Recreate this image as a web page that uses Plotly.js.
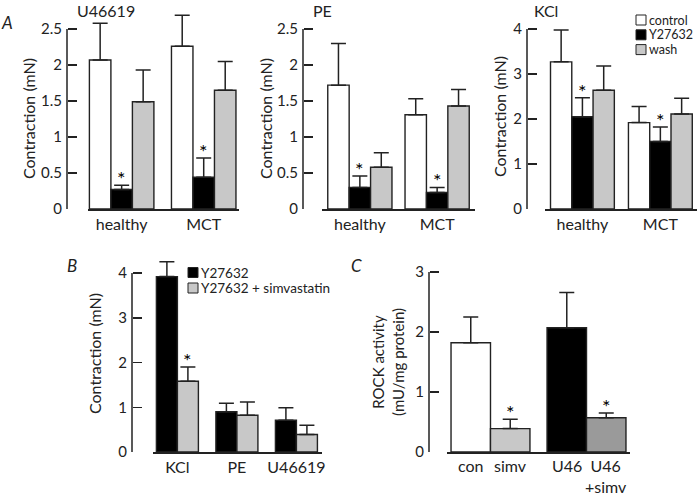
<!DOCTYPE html>
<html>
<head>
<meta charset="utf-8">
<script src="https://cdn.plot.ly/plotly-3.0.1.min.js"></script>
<style>html,body{margin:0;padding:0;background:#fff;}#chart{width:698px;height:495px;}</style>
</head>
<body>
<div id="chart"></div>
<script>
// ---------------- data ----------------
const aGroups = ['healthy', 'MCT'];
const aSeriesNames = ['control', 'Y27632', 'wash'];

const u46619Control = [2.07, 2.26];
const u46619ControlSem = [0.51, 0.43];
const u46619Y27632 = [0.27, 0.44];
const u46619Y27632Sem = [0.06, 0.27];
const u46619Wash = [1.49, 1.65];
const u46619WashSem = [0.44, 0.40];

const peControl = [1.72, 1.31];
const peControlSem = [0.58, 0.22];
const peY27632 = [0.30, 0.23];
const peY27632Sem = [0.16, 0.07];
const peWash = [0.58, 1.43];
const peWashSem = [0.20, 0.23];

const kclControl = [3.27, 1.92];
const kclControlSem = [0.71, 0.36];
const kclY27632 = [2.05, 1.50];
const kclY27632Sem = [0.42, 0.32];
const kclWash = [2.64, 2.11];
const kclWashSem = [0.54, 0.35];

const bAgonists = ['KCl', 'PE', 'U46619'];
const bSeriesNames = ['Y27632', 'Y27632 + simvastatin'];
const bY27632 = [3.92, 0.90, 0.71];
const bY27632Sem = [0.33, 0.19, 0.28];
const bSimva = [1.58, 0.82, 0.39];
const bSimvaSem = [0.32, 0.30, 0.21];
const bSig = [true, false, false];   // on Y27632 + simvastatin

const cLabels = ['con', 'simv', 'U46', 'U46<br>+simv'];
const cRock = [1.82, 0.39, 2.07, 0.57];
const cRockSem = [0.43, 0.155, 0.59, 0.08];
const cSig = [false, true, false, true];

// ---------------- layout helpers ----------------
const W = 698, H = 495;
const fx = v => v / W;
const fy = v => 1 - v / H;
const FONT = 'Lato, "Open Sans", sans-serif';
const INK = '#222';
const WHITE = '#ffffff', BLACK = '#000000', LGRAY = '#c8c8c8', DGRAY = '#9a9a9a';
const EXT = 1.15;   // head-room above the last tick so that error caps are not clipped

const panels = [
  {k: '',  xd: [88, 239],  xr: [-0.41, 1.43],  yd: [209, 29],  ymax: 2.5, dt: 0.5, ypos: 67,  bw: 0.262, labels: true},
  {k: '2', xd: [322, 475], xr: [-0.49, 1.49],  yd: [209, 29],  ymax: 2.5, dt: 0.5, ypos: 303, bw: 0.277, labels: true},
  {k: '3', xd: [545, 697], xr: [-0.48, 1.47],  yd: [209, 29],  ymax: 4,   dt: 1,   ypos: 527, bw: 0.273, labels: true},
  {k: '4', xd: [153, 322], xr: [-0.41, 2.43],  yd: [452, 273], ymax: 4,   dt: 1,   ypos: 132, bw: 0.353, labels: true},
  {k: '5', xd: [447, 630], xr: [-0.453, 1.453],yd: [452, 272], ymax: 3,   dt: 1,   ypos: 429, bw: 0.411, labels: false}
];

const traces = [];
const annotations = [];
const shapes = [];

function addBars(p, cats, vals, sems, colors, idx, n, name) {
  traces.push({
    type: 'bar', name: name, x: cats, y: vals,
    xaxis: 'x' + p.k, yaxis: 'y' + p.k,
    width: p.bw, offset: -n * p.bw / 2 + idx * p.bw,
    marker: {color: colors, line: {color: INK, width: 1.4}},
    error_y: {type: 'data', symmetric: false, array: sems, arrayminus: sems.map(() => 0),
              color: INK, thickness: 1.5, width: 7.5},
    hoverinfo: 'y', showlegend: false
  });
}
function barCenter(p, catIdx, idx, n) { return catIdx - n * p.bw / 2 + (idx + 0.5) * p.bw; }
function addStar(p, catIdx, idx, n, top) {
  annotations.push({x: barCenter(p, catIdx, idx, n), y: top, xref: 'x' + p.k, yref: 'y' + p.k,
    text: '*', showarrow: false, xanchor: 'center', yanchor: 'bottom', yshift: -7,
    font: {family: FONT, size: 20, color: '#000'}});
}

// Panel A
const aData = [
  [[u46619Control, u46619ControlSem], [u46619Y27632, u46619Y27632Sem], [u46619Wash, u46619WashSem]],
  [[peControl, peControlSem], [peY27632, peY27632Sem], [peWash, peWashSem]],
  [[kclControl, kclControlSem], [kclY27632, kclY27632Sem], [kclWash, kclWashSem]]
];
const aColors = [WHITE, BLACK, LGRAY];
aData.forEach((series, pi) => {
  const p = panels[pi];
  series.forEach((s, si) => addBars(p, aGroups, s[0], s[1], aColors[si], si, 3, aSeriesNames[si]));
  // significance on Y27632 in both groups
  aGroups.forEach((g, gi) => addStar(p, gi, 1, 3, series[1][0][gi] + series[1][1][gi]));
});

// Panel B
addBars(panels[3], bAgonists, bY27632, bY27632Sem, BLACK, 0, 2, bSeriesNames[0]);
addBars(panels[3], bAgonists, bSimva, bSimvaSem, LGRAY, 1, 2, bSeriesNames[1]);
bSig.forEach((s, i) => { if (s) addStar(panels[3], i, 1, 2, bSimva[i] + bSimvaSem[i]); });

// Panel C : bars paired two by two
const cGroups = ['control', 'U46619'];
const cColors = [WHITE, LGRAY, BLACK, DGRAY];
[0, 1].forEach(j => {
  const idxs = [j, j + 2];
  addBars(panels[4], cGroups, idxs.map(i => cRock[i]), idxs.map(i => cRockSem[i]),
          idxs.map(i => cColors[i]), j, 2, 'ROCK');
});
cLabels.forEach((lab, i) => {
  const gi = Math.floor(i / 2), j = i % 2;
  const p = panels[4];
  annotations.push({x: barCenter(p, gi, j, 2), y: 0, xref: 'x5', yref: 'y5', text: lab,
    showarrow: false, xanchor: 'center', yanchor: 'top', yshift: -2, align: 'center',
    font: {family: FONT, size: 16, color: INK}});
  if (cSig[i]) addStar(p, gi, j, 2, cRock[i] + cRockSem[i]);
});

// ---------------- axes ----------------
const layout = {
  width: W, height: H, margin: {l: 0, r: 0, t: 0, b: 0, autoexpand: false},
  paper_bgcolor: '#fff', plot_bgcolor: 'rgba(0,0,0,0)',
  barmode: 'group', showlegend: false,
  font: {family: FONT, size: 15, color: INK},
  annotations: annotations, shapes: shapes
};
panels.forEach(p => {
  const bottom = p.yd[0], top = bottom - (p.yd[0] - p.yd[1]) * EXT;
  layout['xaxis' + p.k] = {
    domain: [fx(p.xd[0]), fx(p.xd[1])], range: p.xr, anchor: 'y' + p.k, automargin: false,
    showline: true, linecolor: INK, linewidth: 1.5, ticks: '', showgrid: false, zeroline: false,
    showticklabels: p.labels, tickfont: {family: FONT, size: 16, color: INK}, fixedrange: true
  };
  layout['yaxis' + p.k] = {
    domain: [fy(bottom), fy(top)], range: [0, p.ymax * EXT], anchor: 'free', position: fx(p.ypos),
    automargin: false,
    showline: false, ticks: 'inside', ticklen: 9, tickwidth: 1.5,
    tickcolor: INK, dtick: p.dt, tick0: 0, showgrid: false, zeroline: false,
    tickfont: {family: FONT, size: 15, color: INK}, ticklabelstandoff: 5, fixedrange: true
  };
  // the y axis line runs from 0 up to the last tick only
  shapes.push({type: 'line', xref: 'paper', yref: 'y' + p.k, x0: fx(p.ypos), x1: fx(p.ypos),
    y0: 0, y1: p.ymax, line: {color: INK, width: 1.5}});
});

// ---------------- text ----------------
function paperText(text, x, y, size, extra) {
  annotations.push(Object.assign({x: fx(x), y: fy(y), xref: 'paper', yref: 'paper', text: text,
    xanchor: 'center', yanchor: 'middle', showarrow: false,
    font: {family: FONT, size: size, color: INK}}, extra || {}));
}
paperText('U46619', 106, 10, 16);
paperText('PE', 322, 10, 16);
paperText('KCl', 546, 10, 16);
paperText('<i>A</i>', 7, 23, 17);
paperText('<i>B</i>', 72, 265, 17);
paperText('<i>C</i>', 356, 265, 17);
paperText('Contraction (mN)', 28, 119, 16, {textangle: -90});
paperText('Contraction (mN)', 265, 119, 16, {textangle: -90});
paperText('Contraction (mN)', 500, 117, 16, {textangle: -90});
paperText('Contraction (mN)', 94, 354, 16, {textangle: -90});
paperText('ROCK activity<br>(mU/mg protein)', 388, 362, 15, {textangle: -90});

// legends (swatch + label)
function legendItem(label, color, x, y, size) {
  shapes.push({type: 'rect', xref: 'paper', yref: 'paper',
    x0: fx(x), x1: fx(x + 10), y0: fy(y + 5), y1: fy(y - 5),
    fillcolor: color, line: {color: INK, width: 1}});
  paperText(label, x + 12, y, size, {xanchor: 'left', borderpad: 0});
}
aSeriesNames.forEach((n, i) => legendItem(n, aColors[i], 636, 20 + i * 14.8, 12.5));
bSeriesNames.forEach((n, i) => legendItem(n, [BLACK, LGRAY][i], 188, 272.5 + i * 15.5, 13.5));

Plotly.newPlot('chart', traces, layout, {staticPlot: true, displayModeBar: false});
</script>
</body>
</html>
